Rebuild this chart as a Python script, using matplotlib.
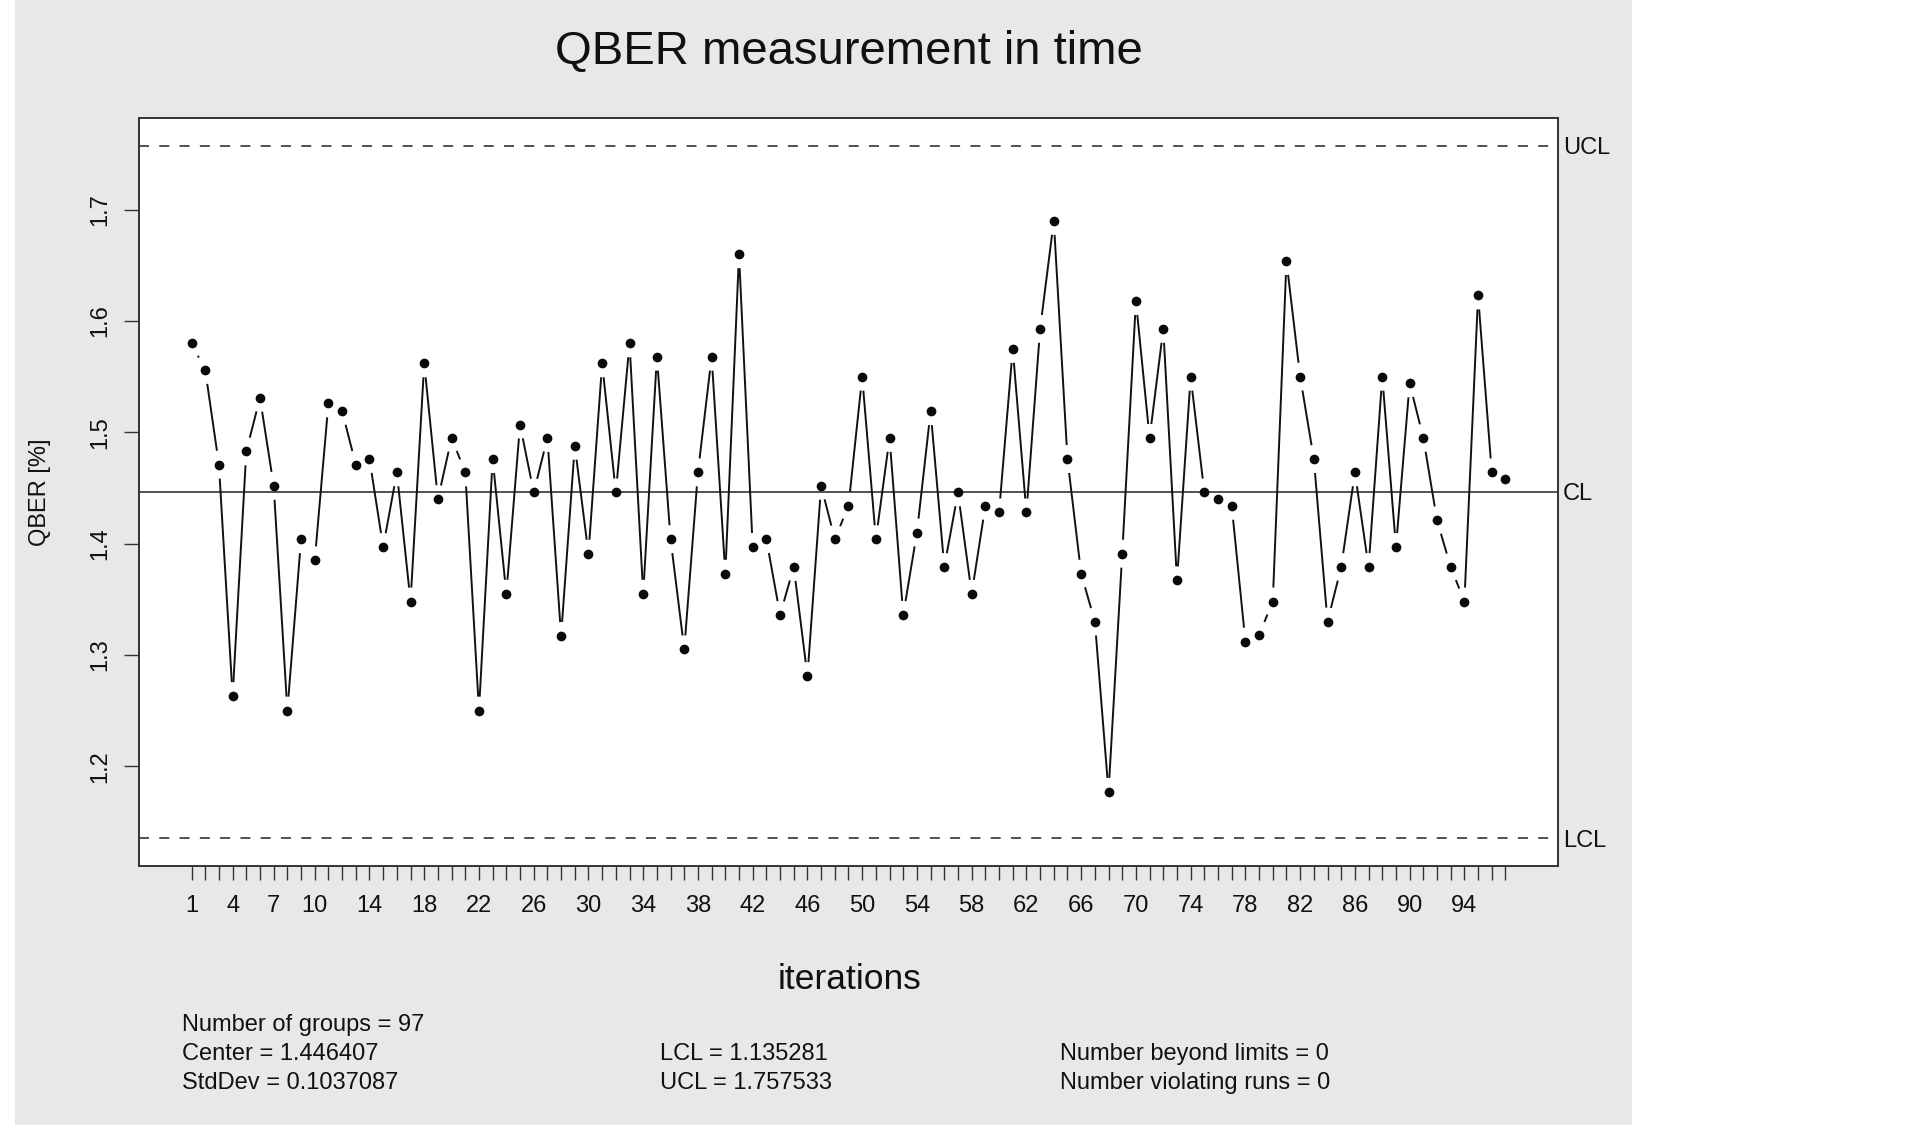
import numpy as np
import matplotlib
matplotlib.use("Agg")
import matplotlib.pyplot as plt
from matplotlib.collections import LineCollection
from matplotlib.patches import Rectangle

plt.rcParams['font.family'] = ['Liberation Sans', 'DejaVu Sans']
plt.rcParams['lines.scale_dashes'] = False

# ---- data ----
qber = [1.580, 1.556, 1.471, 1.263, 1.483, 1.531, 1.452, 1.250, 1.404, 1.385,
        1.526, 1.519, 1.471, 1.476, 1.397, 1.464, 1.348, 1.562, 1.440, 1.495,
        1.464, 1.250, 1.476, 1.355, 1.507, 1.446, 1.495, 1.317, 1.488, 1.391,
        1.562, 1.446, 1.580, 1.355, 1.568, 1.404, 1.305, 1.464, 1.568, 1.373,
        1.660, 1.397, 1.404, 1.336, 1.379, 1.281, 1.452, 1.404, 1.434, 1.550,
        1.404, 1.495, 1.336, 1.410, 1.519, 1.379, 1.446, 1.355, 1.434, 1.428,
        1.575, 1.428, 1.593, 1.690, 1.476, 1.373, 1.330, 1.177, 1.391, 1.618,
        1.495, 1.593, 1.367, 1.550, 1.446, 1.440, 1.434, 1.312, 1.318, 1.348,
        1.654, 1.550, 1.476, 1.330, 1.379, 1.464, 1.379, 1.550, 1.397, 1.544,
        1.495, 1.421, 1.379, 1.348, 1.623, 1.464, 1.458]
groups = list(range(1, len(qber) + 1))
x_labels = [1, 4, 7, 10, 14, 18, 22, 26, 30, 34, 38, 42, 46, 50, 54, 58, 62,
            66, 70, 74, 78, 82, 86, 90, 94]
y_ticks = [1.2, 1.3, 1.4, 1.5, 1.6, 1.7]
center = 1.446407
stddev = 0.1037087
lcl = 1.135281
ucl = 1.757533
limit_names = ["UCL", "CL", "LCL"]
limit_values = [ucl, center, lcl]
title = "QBER measurement in time"
xlabel = "iterations"
ylabel = "QBER [%]"

W, H = 1913, 1125
fig = plt.figure(figsize=(W / 100, H / 100), dpi=100, facecolor='white')

# grey margin background
fig.patches.append(Rectangle((15 / W, 0), (1632 - 15) / W, 1, transform=fig.transFigure,
                             facecolor='#E8E8E8', edgecolor='none', zorder=-10))

ax = fig.add_axes([139 / W, 1 - 866 / H, (1558 - 139) / W, (866 - 118) / H])
ax.set_facecolor('white')

n = len(qber)
xr = (n - 1) * 0.04
ax.set_xlim(1 - xr, n + xr)
ymin = min(min(qber), lcl)
ymax = max(max(qber), ucl)
yr = (ymax - ymin) * 0.04
ax.set_ylim(ymin - yr, ymax + yr)

for s in ax.spines.values():
    s.set_linewidth(1.4)
    s.set_color('#333333')

# control lines
ax.axhline(center, color='#222222', lw=1.1)
for v in (ucl, lcl):
    ln, = ax.plot([0, 1], [v, v], transform=ax.get_yaxis_transform(), color='#222222', lw=1.1)
    ln.set_dashes((7.2, 7.4))

# lines with gaps (R type = "b")
pix = ax.transData.transform(np.column_stack([groups, qber]))
gap = 14.0
segs = []
for i in range(n - 1):
    p0, p1 = pix[i], pix[i + 1]
    d = p1 - p0
    L = np.hypot(*d)
    if L > 2 * gap:
        u = d / L
        a = ax.transData.inverted().transform(p0 + u * gap)
        b = ax.transData.inverted().transform(p1 - u * gap)
        segs.append([a, b])
ax.add_collection(LineCollection(segs, colors='#111111', linewidths=1.4))
ax.plot(groups, qber, 'o', color='#0a0a0a', markersize=7, markeredgewidth=0, zorder=5)

# limit labels on the right
for name, v in zip(limit_names, limit_values):
    ax.text(1.0035, v, name, transform=ax.get_yaxis_transform(), ha='left',
            va='center_baseline', fontsize=17, color='#111111')

# x ticks
ax.set_xticks(groups)
ax.set_xticklabels([str(g) if g in x_labels else '' for g in groups])
ax.tick_params(axis='x', length=10, width=1.0, direction='out', pad=11, labelsize=17,
               color='#333333', labelcolor='#111111')
# y ticks
ax.set_yticks(y_ticks)
ax.set_yticklabels([f"{v:.1f}" for v in y_ticks])
ax.tick_params(axis='y', length=10.8, width=1.0, direction='out', pad=9, labelsize=17,
               color='#333333', labelcolor='#111111')
for lab in ax.get_yticklabels():
    lab.set_rotation(90)
    lab.set_va('center')
    lab.set_ha('right')

fig.text(849 / W, 1 - 64 / H, title, ha='center', va='baseline', fontsize=34, color='#111111')
fig.text(849 / W, 1 - 989 / H, xlabel, ha='center', va='baseline', fontsize=25.5, color='#111111')
fig.text(40 / W, 1 - 492 / H, ylabel, ha='center', va='center', rotation=90, fontsize=17,
         color='#111111')

# stats text
stats = [
    (182, 1031, "Number of groups = %d" % n),
    (182, 1060, "Center = %.6f" % center),
    (182, 1089, "StdDev = %.7f" % stddev),
    (660, 1060, "LCL = %.6f" % lcl),
    (660, 1089, "UCL = %.6f" % ucl),
    (1060, 1060, "Number beyond limits = 0"),
    (1060, 1089, "Number violating runs = 0"),
]
for xx, yy, t in stats:
    fig.text(xx / W, 1 - yy / H, t, ha='left', va='baseline', fontsize=17, color='#111111')

fig.savefig("out.png", dpi=100, facecolor='white')
